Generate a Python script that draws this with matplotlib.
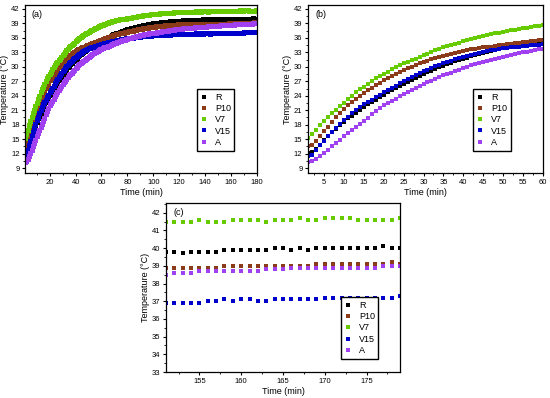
import matplotlib
matplotlib.use("Agg")
import matplotlib.pyplot as plt
import numpy as np
from matplotlib.ticker import MultipleLocator

plt.rcParams['font.family'] = ['Liberation Sans', 'DejaVu Sans']

# time in minutes, one reading per minute
time = list(range(1, 181))

labels = ['R', 'P10', 'V7', 'V15', 'A']
colors = ['#000000', '#8B3A1A', '#66CC00', '#0000CC', '#A040F0']

R = [12.2, 12.3, 13.0, 13.9, 14.8, 15.6, 16.4, 17.2, 17.9, 18.6,
     19.3, 19.9, 20.5, 21.1, 21.6, 22.2, 22.7, 23.2, 23.7, 24.2,
     24.7, 25.2, 25.6, 26.1, 26.5, 26.9, 27.3, 27.7, 28.1, 28.5,
     28.9, 29.2, 29.6, 29.9, 30.2, 30.5, 30.8, 31.1, 31.4, 31.7,
     31.9, 32.2, 32.4, 32.7, 32.9, 33.1, 33.3, 33.5, 33.7, 33.9,
     34.1, 34.2, 34.4, 34.5, 34.7, 34.8, 34.9, 35.1, 35.2, 35.3,
     35.5, 35.6, 35.8, 35.9, 36.1, 36.2, 36.4, 36.5, 36.7, 36.8,
     36.9, 37.0, 37.1, 37.2, 37.3, 37.4, 37.5, 37.6, 37.7, 37.8,
     37.9, 37.9, 38.0, 38.1, 38.1, 38.2, 38.3, 38.3, 38.4, 38.5,
     38.5, 38.6, 38.6, 38.7, 38.7, 38.8, 38.8, 38.9, 38.9, 39.0,
     39.0, 39.0, 39.1, 39.1, 39.1, 39.2, 39.2, 39.2, 39.3, 39.3,
     39.3, 39.3, 39.4, 39.4, 39.4, 39.4, 39.5, 39.4, 39.5, 39.5,
     39.5, 39.5, 39.6, 39.5, 39.6, 39.6, 39.6, 39.6, 39.6, 39.6,
     39.7, 39.6, 39.7, 39.7, 39.7, 39.7, 39.7, 39.8, 39.7, 39.7,
     39.8, 39.7, 39.8, 39.8, 39.8, 39.8, 39.8, 39.8, 39.9, 39.8,
     39.8, 39.8, 39.7, 39.8, 39.8, 39.8, 39.8, 39.9, 39.9, 39.9,
     39.9, 39.9, 39.9, 40.0, 40.0, 39.9, 40.0, 39.9, 40.0, 40.0,
     40.0, 40.0, 40.0, 40.0, 40.0, 40.0, 40.1, 40.0, 40.0, 40.0]

P10 = [13.6, 13.7, 14.6, 15.6, 16.6, 17.6, 18.6, 19.5, 20.4, 21.3,
       22.0, 22.7, 23.4, 24.0, 24.6, 25.2, 25.7, 26.2, 26.7, 27.2,
       27.6, 28.1, 28.5, 28.9, 29.3, 29.7, 30.0, 30.4, 30.7, 31.0,
       31.3, 31.6, 31.8, 32.1, 32.3, 32.5, 32.7, 32.9, 33.1, 33.3,
       33.4, 33.6, 33.7, 33.9, 34.0, 34.1, 34.2, 34.4, 34.5, 34.6,
       34.7, 34.8, 34.9, 35.0, 35.1, 35.2, 35.3, 35.4, 35.5, 35.6,
       35.7, 35.8, 35.9, 36.0, 36.1, 36.2, 36.3, 36.4, 36.5, 36.6,
       36.7, 36.8, 36.8, 36.9, 37.0, 37.0, 37.1, 37.2, 37.2, 37.3,
       37.4, 37.4, 37.5, 37.5, 37.6, 37.7, 37.7, 37.8, 37.8, 37.9,
       37.9, 38.0, 38.0, 38.1, 38.1, 38.1, 38.2, 38.2, 38.3, 38.3,
       38.3, 38.4, 38.4, 38.4, 38.5, 38.5, 38.5, 38.5, 38.6, 38.6,
       38.6, 38.6, 38.6, 38.7, 38.7, 38.7, 38.7, 38.7, 38.8, 38.8,
       38.8, 38.8, 38.8, 38.8, 38.8, 38.8, 38.9, 38.8, 38.9, 38.9,
       38.9, 38.9, 38.8, 38.9, 38.9, 38.9, 38.9, 38.9, 38.9, 38.9,
       38.9, 38.9, 38.9, 38.9, 38.9, 38.9, 38.9, 38.9, 38.9, 38.9,
       38.9, 38.9, 38.9, 38.9, 38.9, 38.9, 38.9, 39.0, 39.0, 39.0,
       39.0, 39.0, 39.0, 39.0, 39.0, 39.0, 39.0, 39.0, 39.1, 39.1,
       39.1, 39.1, 39.1, 39.1, 39.1, 39.1, 39.1, 39.2, 39.1, 39.1]

V7 = [15.2, 16.1, 17.0, 17.9, 18.8, 19.6, 20.4, 21.1, 21.9, 22.6,
      23.3, 24.0, 24.7, 25.3, 25.9, 26.5, 27.0, 27.6, 28.1, 28.6,
      29.0, 29.5, 29.9, 30.3, 30.7, 31.0, 31.4, 31.7, 32.1, 32.4,
      32.7, 33.1, 33.4, 33.7, 34.0, 34.3, 34.5, 34.8, 35.0, 35.3,
      35.5, 35.7, 36.0, 36.2, 36.4, 36.6, 36.8, 36.9, 37.1, 37.3,
      37.4, 37.6, 37.7, 37.9, 38.0, 38.1, 38.2, 38.4, 38.5, 38.6,
      38.7, 38.8, 38.9, 39.0, 39.1, 39.2, 39.3, 39.4, 39.4, 39.5,
      39.6, 39.6, 39.7, 39.8, 39.8, 39.9, 39.9, 40.0, 40.0, 40.1,
      40.1, 40.2, 40.2, 40.3, 40.3, 40.4, 40.4, 40.5, 40.5, 40.6,
      40.6, 40.7, 40.7, 40.7, 40.8, 40.8, 40.8, 40.9, 40.9, 40.9,
      41.0, 41.0, 41.0, 41.0, 41.1, 41.1, 41.1, 41.1, 41.1, 41.2,
      41.2, 41.2, 41.2, 41.2, 41.2, 41.3, 41.3, 41.3, 41.3, 41.3,
      41.3, 41.3, 41.4, 41.3, 41.4, 41.4, 41.3, 41.4, 41.4, 41.4,
      41.4, 41.4, 41.5, 41.4, 41.4, 41.5, 41.4, 41.5, 41.5, 41.5,
      41.5, 41.4, 41.5, 41.5, 41.5, 41.5, 41.5, 41.6, 41.5, 41.5,
      41.5, 41.5, 41.5, 41.5, 41.6, 41.5, 41.5, 41.5, 41.6, 41.6,
      41.6, 41.6, 41.5, 41.6, 41.6, 41.6, 41.7, 41.6, 41.6, 41.7,
      41.7, 41.7, 41.7, 41.6, 41.6, 41.6, 41.6, 41.6, 41.7, 41.7]

V15 = [11.5, 11.8, 12.7, 13.7, 14.7, 15.6, 16.5, 17.4, 18.2, 19.0,
       19.7, 20.4, 21.0, 21.6, 22.2, 22.7, 23.2, 23.7, 24.2, 24.7,
       25.2, 25.7, 26.1, 26.6, 27.0, 27.4, 27.8, 28.2, 28.7, 29.1,
       29.4, 29.8, 30.1, 30.4, 30.7, 31.0, 31.3, 31.6, 31.9, 32.1,
       32.3, 32.5, 32.7, 32.9, 33.1, 33.2, 33.4, 33.5, 33.6, 33.8,
       33.9, 34.0, 34.1, 34.2, 34.3, 34.4, 34.5, 34.5, 34.6, 34.7,
       34.8, 34.9, 34.9, 35.0, 35.1, 35.1, 35.2, 35.3, 35.3, 35.4,
       35.4, 35.5, 35.5, 35.6, 35.7, 35.7, 35.8, 35.8, 35.9, 35.9,
       35.9, 36.0, 36.0, 36.0, 36.1, 36.1, 36.1, 36.2, 36.2, 36.2,
       36.3, 36.3, 36.3, 36.3, 36.4, 36.4, 36.4, 36.4, 36.5, 36.5,
       36.5, 36.5, 36.5, 36.5, 36.6, 36.6, 36.6, 36.6, 36.6, 36.6,
       36.6, 36.7, 36.6, 36.7, 36.7, 36.7, 36.7, 36.7, 36.7, 36.7,
       36.7, 36.8, 36.7, 36.8, 36.8, 36.8, 36.8, 36.8, 36.8, 36.8,
       36.8, 36.8, 36.9, 36.8, 36.8, 36.9, 36.9, 36.8, 36.9, 36.9,
       36.9, 36.9, 36.9, 36.8, 36.9, 36.9, 36.9, 36.9, 36.9, 36.9,
       36.9, 36.9, 36.9, 36.9, 36.9, 37.0, 37.0, 37.1, 37.0, 37.1,
       37.1, 37.0, 37.0, 37.1, 37.1, 37.1, 37.1, 37.1, 37.1, 37.2,
       37.2, 37.2, 37.2, 37.2, 37.2, 37.2, 37.2, 37.2, 37.3, 37.3]

A = [10.3, 10.4, 11.0, 11.6, 12.2, 12.8, 13.5, 14.2, 14.9, 15.6,
     16.3, 16.9, 17.6, 18.2, 18.8, 19.4, 20.3, 20.9, 21.5, 22.0,
     22.5, 23.0, 23.4, 23.9, 24.3, 24.8, 25.2, 25.6, 26.0, 26.4,
     26.8, 27.1, 27.5, 27.8, 28.2, 28.5, 28.8, 29.1, 29.4, 29.7,
     30.0, 30.3, 30.5, 30.8, 31.0, 31.3, 31.5, 31.7, 31.9, 32.1,
     32.3, 32.5, 32.7, 32.8, 33.0, 33.1, 33.3, 33.4, 33.6, 33.7,
     33.8, 34.0, 34.1, 34.2, 34.3, 34.4, 34.5, 34.7, 34.8, 34.9,
     35.0, 35.1, 35.2, 35.3, 35.4, 35.5, 35.5, 35.6, 35.7, 35.8,
     35.9, 35.9, 36.0, 36.1, 36.1, 36.2, 36.3, 36.3, 36.4, 36.5,
     36.5, 36.6, 36.7, 36.7, 36.8, 36.8, 36.9, 36.9, 37.0, 37.1,
     37.1, 37.1, 37.2, 37.2, 37.3, 37.3, 37.4, 37.4, 37.5, 37.5,
     37.5, 37.6, 37.6, 37.7, 37.7, 37.7, 37.8, 37.8, 37.9, 37.9,
     37.9, 37.9, 38.0, 38.0, 38.0, 38.0, 38.1, 38.1, 38.1, 38.1,
     38.1, 38.2, 38.2, 38.2, 38.2, 38.2, 38.3, 38.3, 38.3, 38.3,
     38.3, 38.4, 38.4, 38.4, 38.4, 38.4, 38.5, 38.5, 38.5, 38.5,
     38.5, 38.6, 38.6, 38.6, 38.7, 38.7, 38.7, 38.7, 38.7, 38.7,
     38.7, 38.7, 38.8, 38.8, 38.8, 38.9, 38.9, 38.9, 38.9, 38.9,
     38.9, 38.9, 38.9, 38.9, 38.9, 38.9, 39.0, 39.0, 39.0, 39.0]

series = [R, P10, V7, V15, A]

t = np.array(time)

fig = plt.figure(figsize=(5.5, 3.98), dpi=100)
ax_a = fig.add_axes([0.0455, 0.5653, 0.4218, 0.4221])
ax_b = fig.add_axes([0.56, 0.5653, 0.4273, 0.4221])
ax_c = fig.add_axes([0.3018, 0.0653, 0.4255, 0.4246])

def style(ax, tag):
    ax.tick_params(direction='out', length=2.5, width=0.8, labelsize=5.5, pad=1.5,
                   top=False, right=False)
    ax.tick_params(which='minor', direction='out', length=1.5, width=0.6,
                   top=False, right=False)
    for s in ax.spines.values():
        s.set_linewidth(0.9)
    ax.set_xlabel('Time (min)', fontsize=6.5, labelpad=1.5)
    ax.set_ylabel('Temperature (°C)', fontsize=6.5, labelpad=1.5)
    ax.text(0.03, 0.97, tag, transform=ax.transAxes, fontsize=6.5, va='top', ha='left')

leg_kw = dict(loc='lower right', fontsize=6.5, fancybox=False, edgecolor='black',
              framealpha=1, handlelength=0.8, handletextpad=0.8, borderpad=0.4,
              labelspacing=0.25)

# (a) whole run
for y, lab, c in zip(series, labels, colors):
    ax_a.plot(t, y, 's', ms=3.6, color=c, mew=0, label=lab)
ax_a.set_xlim(1, 180)
ax_a.set_ylim(8, 42.8)
ax_a.xaxis.set_major_locator(MultipleLocator(20))
ax_a.xaxis.set_minor_locator(MultipleLocator(10))
ax_a.yaxis.set_major_locator(MultipleLocator(3))
ax_a.yaxis.set_minor_locator(MultipleLocator(1.5))
style(ax_a, '(a)')
ax_a.legend(bbox_to_anchor=(0.922, 0.107), markerscale=0.8, **leg_kw)

# (b) first hour
m = t <= 60
for y, lab, c in zip(series, labels, colors):
    ax_b.plot(t[m], np.array(y)[m], 's', ms=3.0, color=c, mew=0, label=lab)
ax_b.set_xlim(1, 60)
ax_b.set_ylim(8, 42.8)
ax_b.xaxis.set_major_locator(MultipleLocator(5))
ax_b.xaxis.set_minor_locator(MultipleLocator(2.5))
ax_b.yaxis.set_major_locator(MultipleLocator(3))
ax_b.yaxis.set_minor_locator(MultipleLocator(1.5))
style(ax_b, '(b)')
ax_b.legend(bbox_to_anchor=(0.881, 0.107), **leg_kw)

# (c) steady state
m = (t >= 151) & (t <= 179)
for y, lab, c in zip(series, labels, colors):
    ax_c.plot(t[m], np.array(y)[m], 's', ms=3.2, color=c, mew=0, label=lab)
ax_c.set_xlim(151, 179)
ax_c.set_ylim(33, 42.55)
ax_c.xaxis.set_major_locator(MultipleLocator(5))
ax_c.xaxis.set_minor_locator(MultipleLocator(2.5))
ax_c.yaxis.set_major_locator(MultipleLocator(1))
ax_c.yaxis.set_minor_locator(MultipleLocator(0.5))
style(ax_c, '(c)')
ax_c.legend(bbox_to_anchor=(0.927, 0.053), **leg_kw)

fig.savefig('out.png', dpi=100)
